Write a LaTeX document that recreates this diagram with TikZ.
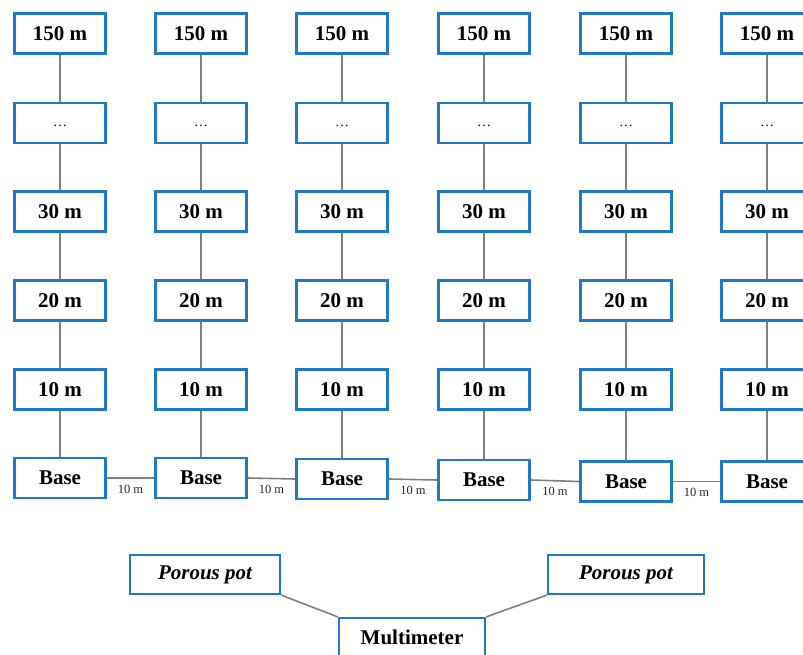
\documentclass[tikz,border=0pt]{standalone}
\usepackage{fontspec}
\setmainfont{Liberation Serif}
\definecolor{frameblue}{HTML}{1F78C8}
\definecolor{wiregray}{HTML}{7F7F7F}
\begin{document}
\begin{tikzpicture}[x=1pt,y=-1pt,
  box/.style={draw=frameblue, line width=2.5pt, fill=white,
    minimum width=91pt, minimum height=40pt, inner sep=0pt,
    font=\fontsize{21}{24}\selectfont\bfseries},
  dotsbox/.style={box, font=\fontsize{14}{16}\selectfont},
  potbox/.style={box, line width=2.2pt, minimum height=39pt,
    font=\fontsize{21}{24}\selectfont\bfseries\itshape},
  wire/.style={draw=wiregray, line width=1.6pt},
  gaplabel/.style={font=\fontsize{12.5}{14}\selectfont, text=black!85,
    anchor=north, inner sep=0pt, yshift=-6pt}]
\useasboundingbox (0,0) rectangle (803,655);
\clip (0,0) rectangle (803,655);

% six electrode lines, each with a base and stations up to 150 m
\foreach \i/\cx/\by in {1/60/478, 2/201/478, 3/342/479, 4/484/480, 5/626/481.5, 6/767/481.5} {
  \node[box]     (t\i) at (\cx,33.5) {150 m};
  \node[dotsbox] (d\i) at (\cx,123)  {\raisebox{-4pt}[0pt][0pt]{\ldots}};
  \node[box]     (c\i) at (\cx,211.5) {30 m};
  \node[box]     (e\i) at (\cx,300.5) {20 m};
  \node[box]     (f\i) at (\cx,389.5) {10 m};
  \node[box]     (b\i) at (\cx,\by)  {Base};
  \draw[wire] (t\i.south) -- (d\i.north);
  \draw[wire] (d\i.south) -- (c\i.north);
  \draw[wire] (c\i.south) -- (e\i.north);
  \draw[wire] (e\i.south) -- (f\i.north);
  \draw[wire] (f\i.south) -- (b\i.north);
}

% 10 m spacing between neighbouring bases
\foreach \i/\j in {1/2, 2/3, 3/4, 4/5, 5/6} {
  \draw[wire] (b\i.east) -- (b\j.west) node[gaplabel, midway] {10 m};
}

% measuring circuit
\node[potbox, minimum width=150pt] (pl) at (205,574.5) {Porous pot};
\node[potbox, minimum width=156pt] (pr) at (626,574.5) {Porous pot};
\node[potbox, minimum width=146pt, font=\fontsize{21}{24}\selectfont\bfseries] (mm) at (412,637.5) {Multimeter};
\draw[wire] (pl.south east) -- (mm.north west);
\draw[wire] (mm.north east) -- (pr.south west);
\end{tikzpicture}
\end{document}
